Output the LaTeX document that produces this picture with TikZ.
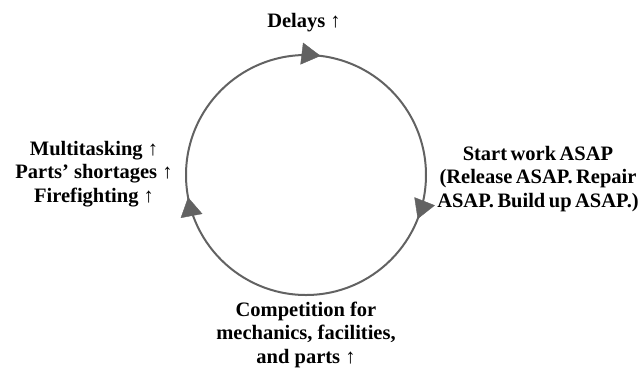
\documentclass[tikz,border=0pt]{standalone}
\usepackage{fontspec}
\setmainfont{Liberation Serif}
\usetikzlibrary{arrows.meta,decorations.markings}
\definecolor{loopgray}{RGB}{98,98,98}
\newcommand\tightwords{\spaceskip=0.17em plus 0.05em\relax}
\tikzset{
  label text/.style={font=\fontsize{20.5}{23.5}\selectfont\bfseries, align=center, inner sep=0pt, text=black},
  cycle line/.style={draw=loopgray, line width=2pt},
  cw tip/.style={postaction={decorate}, decoration={markings,
      mark=at position #1 with {\arrow[loopgray]{Triangle[length=19pt,width=22pt]}}}}
}
\begin{document}
\begin{tikzpicture}[x=1pt,y=-1pt]
  \useasboundingbox (0,0) rectangle (641,376);
  \coordinate (c) at (306,175);
  % the loop; with y pointing down the circle path runs clockwise
  \draw[cycle line] (c) circle (120);
  \path[cw tip=0.7694] (c) circle (120);
  \path[cw tip=0.0597] (c) circle (120);
  \path[cw tip=0.4703] (c) circle (120);
  % labels around the loop (base anchor = baseline of the last line)
  \node[label text, anchor=base] (delays) at (304,27) {Delays ↑};
  \node[label text, anchor=base, font=\fontsize{20.5}{23.5}\selectfont\bfseries\tightwords]
        (start) at (538,207) {Start work ASAP\\(Release ASAP. Repair\\ASAP. Build up ASAP.)};
  \node[label text, anchor=base] (multi) at (94,202) {Multitasking ↑\\Parts’ shortages ↑\\Firefighting ↑};
  \node[label text, anchor=base] (comp) at (306,363) {Competition for\\mechanics, facilities,\\and parts ↑};
\end{tikzpicture}
\end{document}
